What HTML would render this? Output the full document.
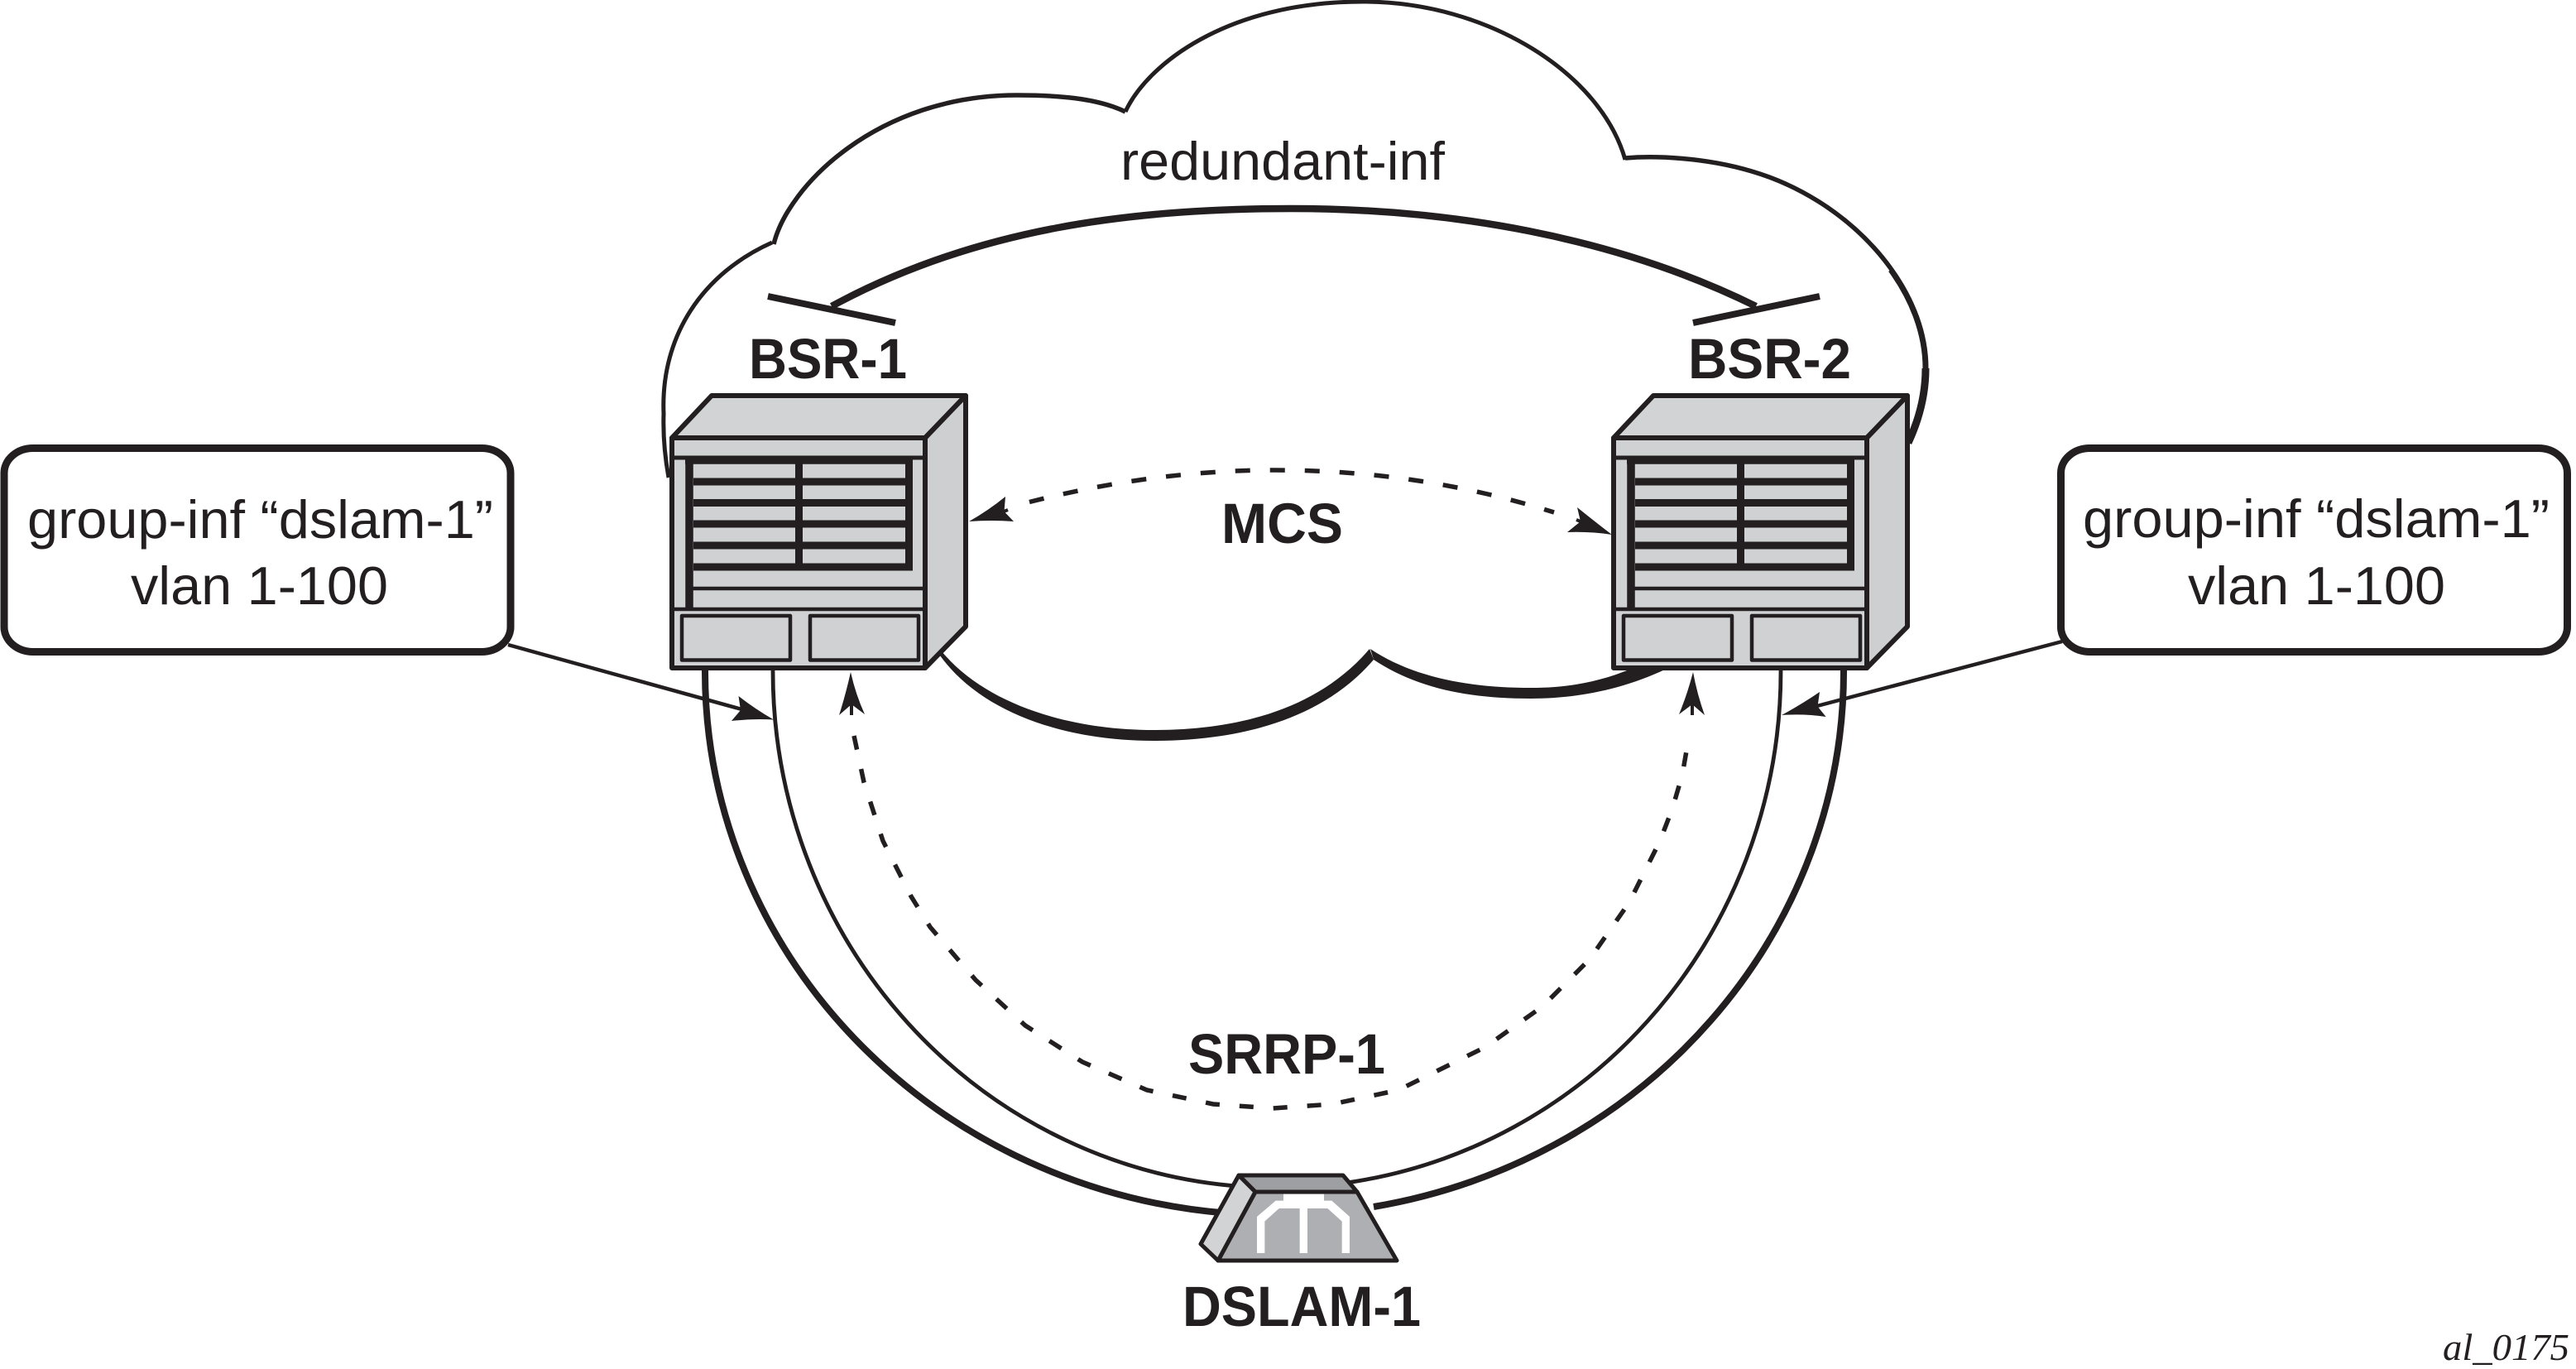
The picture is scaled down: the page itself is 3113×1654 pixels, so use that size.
<!DOCTYPE html>
<html><head><meta charset="utf-8"><style>
html,body{margin:0;padding:0;background:#fff}
svg{display:block}
text{fill:#231f20;font-family:"Liberation Sans",sans-serif}
.b{font-weight:bold;font-size:69px}
.r{font-size:65px}
</style></head><body>
<svg width="3113" height="1654" viewBox="0 0 3113 1654" xmlns="http://www.w3.org/2000/svg">
<defs>
<g id="dev" stroke="#231f20" stroke-linejoin="round">
<path d="M812 529L860 478H1167L1118 529Z" fill="#d1d3d4" stroke-width="6"/>
<path d="M1118 529L1167 478V757L1118 807Z" fill="#cdcfd0" stroke-width="6"/>
<rect x="812" y="529" width="306" height="278" fill="#cfd1d2" stroke-width="6"/>
<g fill="none">
<path d="M812 553H1118" stroke-width="5"/>
<path d="M828 556H1103" stroke-width="9.5"/>
<path d="M838 582H1099M838 607.5H1099M838 633H1099M838 659H1099M838 685H1103" stroke-width="9"/>
<path d="M833 552V736" stroke-width="9.5"/>
<path d="M1098.5 552V689" stroke-width="9"/>
<path d="M965.500 552V685" stroke-width="9"/>
<path d="M833 711H1118M812 736H1118" stroke-width="4.500"/>
</g>
<rect x="824" y="744" width="131" height="53.500" fill="#cfd1d2" stroke-width="4.500"/>
<rect x="979" y="744" width="131" height="53.500" fill="#cfd1d2" stroke-width="4.500"/>
</g>
</defs>

<!-- cloud -->
<g fill="none" stroke="#231f20" stroke-linejoin="miter">
<path d="M933 293C850 330 798 405 802 500C801 530 804 555 808 577" stroke-width="5"/>
<path d="M935 295C952 225 1060 115 1229 115C1275 115 1325 118 1360 135" stroke-width="5.500"/>
<path d="M1360 135C1385 80 1480 2 1647 2C1800 2 1935 90 1964 193" stroke-width="5"/>
<path d="M1964 191C2000 188 2060 190 2117 207C2230 240 2327 340 2327 445" stroke-width="5.500"/>
<path d="M2285 326C2311 362 2327 403 2327 445" stroke-width="7"/>
<path d="M2327 445C2327 475 2320 505 2306 535" stroke-width="9"/>
</g>
<path d="M1138 787C1190 850 1290 882 1394 882C1490 882 1590 860 1655 784L1660 797C1595 873 1490 895 1394 895C1285 895 1185 860 1136 792Z" fill="#231f20"/>
<path d="M1656 784C1710 820 1780 831 1850 831C1900 831 1940 822 1978 805L2020 805C1960 835 1900 844 1850 844C1770 844 1710 830 1660 797Z" fill="#231f20"/>

<!-- redundant-inf link -->
<g fill="none" stroke="#231f20">
<path d="M1005 370C1180 275 1370 252 1560 252C1750 252 1950 285 2122 370" stroke-width="8.500"/>
<path d="M928 358L1082 390M2046 390L2199 358" stroke-width="8"/>
</g>

<!-- access arcs -->
<g fill="none" stroke="#231f20">
<path d="M852 805V811A688 657 0 0 0 1480 1465.500" stroke-width="8"/>
<path d="M2228 805V811A688 657 0 0 1 1660 1458" stroke-width="8"/>
<path d="M934 805V811A609 624 0 0 0 1500 1433.400" stroke-width="4.800"/>
<path d="M2152 805V811A609 624 0 0 1 1630 1428.600" stroke-width="4.800"/>
<!-- connectors -->
<path d="M614 779L900 858" stroke-width="4.500"/>
<path d="M2492 775L2192 854" stroke-width="4.500"/>
<!-- SRRP dashed -->
<polyline points="1032,889 1044,945 1067,1016 1101,1083 1124,1120 1179,1184 1239,1239 1308,1283 1386,1317 1466,1334 1538,1339 1610,1334 1690,1317 1795,1265 1864,1216 1921,1159 1969,1090 2006,1016 2021,977 2033,936 2040,896" stroke-width="5.500" stroke-dasharray="17 24"/>
<!-- MCS dashed -->
<path d="M1244 606.500C1340 582 1440 568 1540 568C1660 568 1770 585 1878 619" stroke-width="5.500" stroke-dasharray="18 24"/>
<path d="M1029 850V864M2045 850V864" stroke-width="4"/>
<path d="M1213 618L1218 616M1910 630L1905 628" stroke-width="4"/>
</g>

<!-- arrowheads -->
<g fill="#231f20">
<path d="M935 869.500Q913 857 892.500 841L895 858L884 871Q910 868 935 869.500Z"/>
<path d="M2153 864Q2177 851 2199 836L2196.500 853.500L2206.600 866Q2180 862 2153 864Z"/>
<path d="M1028 812Q1022 839 1014 864L1029 851L1045 863Q1034 839 1028 812Z"/>
<path d="M2046 812Q2039 839 2029 863L2045 851L2060 864Q2051 839 2046 812Z"/>
<path d="M1171 630Q1194 617 1215 600L1213.500 618L1225 630Q1198 628 1171 630Z"/>
<path d="M1948 646Q1927 630 1906 613L1910 630L1894 643Q1921 642 1948 646Z"/>
</g>

<!-- devices -->
<use href="#dev"/>
<use href="#dev" transform="translate(1138 0)"/>

<!-- DSLAM -->
<g stroke="#231f20" stroke-width="5" stroke-linejoin="round">
<path d="M1497 1420H1623L1640 1440H1517Z" fill="#9d9fa2"/>
<path d="M1517 1440H1640L1688 1523H1472Z" fill="#adafb2"/>
<path d="M1497 1420L1517 1440L1472 1523L1451 1503Z" fill="#d1d3d4"/>
</g>
<path transform="translate(1380 1380) scale(.33333)" d="M417 402L445 402L445 287L497 240L572 240L572 402L600 402L600 240L673 240L725 287L725 402L753 402L753 270L688 212L660 212L660 188L513 188L513 212L485 212L417 270Z" fill="#fff"/>

<!-- boxes -->
<rect x="5" y="541.500" width="612" height="246" rx="35" ry="30" fill="#fff" stroke="#231f20" stroke-width="9"/>
<rect x="2490.500" y="541.500" width="612" height="246" rx="35" ry="30" fill="#fff" stroke="#231f20" stroke-width="9"/>

<!-- labels -->
<text class="b" x="905" y="457" textLength="191" lengthAdjust="spacingAndGlyphs">BSR-1</text>
<text class="b" x="2040" y="457" textLength="197" lengthAdjust="spacingAndGlyphs">BSR-2</text>
<text class="b" x="1476" y="656" textLength="147" lengthAdjust="spacingAndGlyphs">MCS</text>
<text class="b" x="1436" y="1297" textLength="238" lengthAdjust="spacingAndGlyphs">SRRP-1</text>
<text class="b" x="1429" y="1602" textLength="288" lengthAdjust="spacingAndGlyphs">DSLAM-1</text>
<text class="r" x="1354" y="217" textLength="392" lengthAdjust="spacingAndGlyphs">redundant-inf</text>
<text class="r" x="33" y="650" textLength="563" lengthAdjust="spacingAndGlyphs">group-inf “dslam-1”</text>
<text class="r" x="158" y="730" textLength="311" lengthAdjust="spacingAndGlyphs">vlan 1-100</text>
<text class="r" x="2517" y="649" textLength="564" lengthAdjust="spacingAndGlyphs">group-inf “dslam-1”</text>
<text class="r" x="2644" y="730" textLength="311" lengthAdjust="spacingAndGlyphs">vlan 1-100</text>
<text x="2952" y="1643" font-size="46" font-style="italic" style="font-family:'Liberation Serif',serif" textLength="153" lengthAdjust="spacingAndGlyphs">al_0175</text>
</svg>
</body></html>
